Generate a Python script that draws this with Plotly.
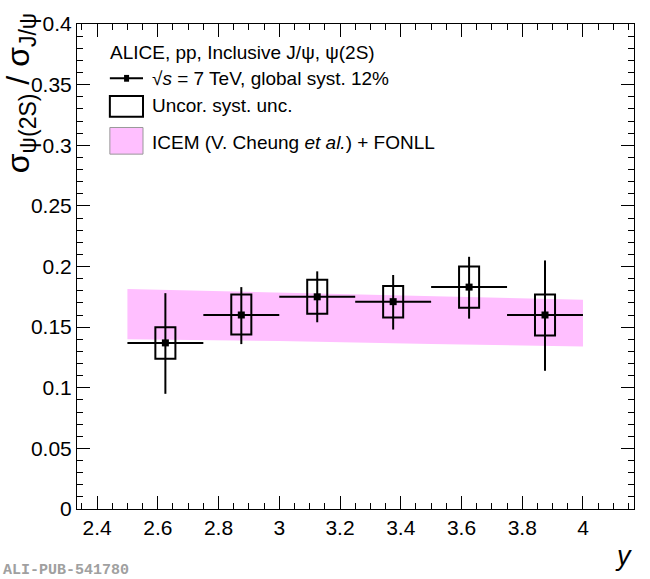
import plotly.graph_objects as go

# measured ratio psi(2S)/J/psi vs rapidity
y_centers = [2.625, 2.875, 3.125, 3.375, 3.625, 3.875]
y_halfwidth = [0.125, 0.125, 0.125, 0.125, 0.125, 0.125]
ratio = [0.137, 0.160, 0.175, 0.171, 0.183, 0.160]
stat_up = [0.041, 0.023, 0.021, 0.022, 0.025, 0.045]
stat_down = [0.042, 0.024, 0.021, 0.023, 0.026, 0.046]
syst_up = [0.013, 0.017, 0.014, 0.013, 0.017, 0.017]
syst_down = [0.013, 0.016, 0.014, 0.013, 0.017, 0.017]

# ICEM + FONLL band
band_y = [2.5, 3.0, 3.5, 4.0]
band_low = [0.140, 0.1385, 0.136, 0.134]
band_high = [0.1815, 0.1785, 0.1755, 0.1725]

FONT = "Liberation Sans, Arial, Helvetica, sans-serif"
PINK = "#ffbfff"

fig = go.Figure()

fig.add_trace(go.Scatter(x=band_y, y=band_low, mode="lines",
                         line=dict(width=0, color=PINK), showlegend=False,
                         hoverinfo="skip"))
fig.add_trace(go.Scatter(x=band_y, y=band_high, mode="lines",
                         line=dict(width=0, color=PINK), fill="tonexty",
                         fillcolor=PINK, showlegend=False, hoverinfo="skip"))

fig.add_trace(go.Scatter(
    x=y_centers, y=ratio, mode="markers",
    marker=dict(symbol="square", size=7, color="black"),
    error_x=dict(type="data", array=y_halfwidth, width=0, thickness=2, color="black"),
    error_y=dict(type="data", array=stat_up, arrayminus=stat_down, width=0,
                 thickness=2, color="black"),
    showlegend=False))

# syst boxes
box_half = 0.033
shapes = []
for xc, v, su, sd in zip(y_centers, ratio, syst_up, syst_down):
    shapes.append(dict(type="rect", xref="x", yref="y",
                       x0=xc - box_half, x1=xc + box_half, y0=v - sd, y1=v + su,
                       line=dict(color="black", width=2), fillcolor="rgba(0,0,0,0)"))

# legend drawn by hand
shapes.append(dict(type="line", xref="paper", yref="paper", x0=0.059, x1=0.1185,
                   y0=0.888, y1=0.888, line=dict(color="black", width=2)))
shapes.append(dict(type="rect", xref="paper", yref="paper", x0=0.0845, x1=0.0935,
                   y0=0.881, y1=0.895, line=dict(width=0), fillcolor="black"))
shapes.append(dict(type="rect", xref="paper", yref="paper", x0=0.059, x1=0.1185,
                   y0=0.809, y1=0.8516, line=dict(color="black", width=2)))
shapes.append(dict(type="rect", xref="paper", yref="paper", x0=0.059, x1=0.1185,
                   y0=0.7317, y1=0.7866, line=dict(color="#999999", width=1),
                   fillcolor=PINK))

annots = [
    dict(x=0.0557, y=0.941, text="ALICE, pp, Inclusive J/ψ, ψ(2S)"),
    dict(x=0.131, y=0.888, text="√<i>s</i> = 7 TeV, global syst. 12%"),
    dict(x=0.131, y=0.831, text="Uncor. syst. unc."),
    dict(x=0.131, y=0.756, text="ICEM (V. Cheung <i>et al.</i>) + FONLL"),
]
for a in annots:
    a.update(xref="paper", yref="paper", xanchor="left", yanchor="middle",
             showarrow=False, font=dict(family=FONT, size=19, color="black"))

sub = "<sub><span style='font-size:23px'>{}</span></sub>"
ytitle = "σ" + sub.format("ψ(2S)") + " / σ" + sub.format("J/ψ")
annots.append(dict(x=-0.101, y=1.026, xref="paper", yref="paper", textangle=-90,
                   xanchor="center", yanchor="top", showarrow=False,
                   text=ytitle, font=dict(family=FONT, size=32, color="black")))
annots.append(dict(x=1.0, y=-0.097, xref="paper", yref="paper", xanchor="right",
                   yanchor="middle", showarrow=False, text="<i>y</i>",
                   font=dict(family=FONT, size=27, color="black")))
annots.append(dict(x=-0.136, y=-0.126, xref="paper", yref="paper", xanchor="left",
                   yanchor="middle", showarrow=False, text="<b>ALI-PUB-541780</b>",
                   font=dict(family="Liberation Mono, Courier New, monospace",
                             size=15, color="#a0a0a0")))

axis_common = dict(showgrid=False, zeroline=False, showline=True, linecolor="black",
                   linewidth=1, mirror="allticks", ticks="inside", tickcolor="black",
                   ticklen=13,
                   tickfont=dict(family=FONT, size=21, color="black"))

fig.update_layout(
    width=650, height=579,
    margin=dict(l=77, r=16, t=17, b=70),
    paper_bgcolor="white", plot_bgcolor="white",
    shapes=shapes, annotations=annots,
    xaxis=dict(range=[2.334, 4.168], tick0=2.4, dtick=0.2,
               minor=dict(dtick=0.05, ticks="inside", ticklen=6, tickcolor="black"),
               **axis_common),
    yaxis=dict(range=[0, 0.4], dtick=0.05,
               minor=dict(dtick=0.01, ticks="inside", ticklen=6, tickcolor="black"),
               **axis_common),
    showlegend=False,
)

fig.write_html("out.html", config=dict(displayModeBar=False),
               post_script="document.body.style.margin='0';document.body.style.padding='0';")
